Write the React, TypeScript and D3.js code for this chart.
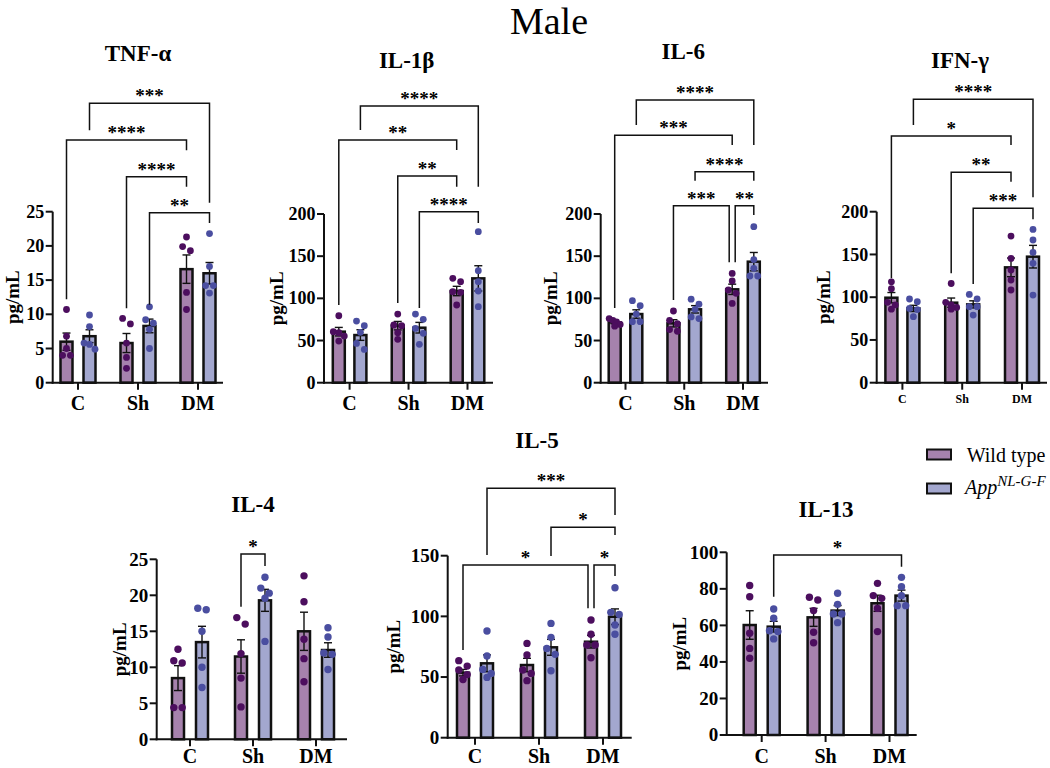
import React from 'react';
import * as d3 from 'd3';

const groups = ['C', 'Sh', 'DM'];
const seriesKeys = ['WT', 'App'];

// ---- TNF-α ----
const tnfTicks = [0, 5, 10, 15, 20, 25];
const tnfWTPoints = [[10.7, 6.8, 5.0, 4.0, 4.0], [9.4, 8.6, 5.8, 3.7, 2.1], [21.3, 19.9, 19.3, 13.2, 10.7]];
const tnfAppPoints = [[9.9, 8.2, 5.8, 5.6, 4.9], [11.1, 9.2, 8.7, 7.8, 5.0], [21.8, 17.0, 14.2, 14.2, 13.1]];
const tnfWTMeans = [6.0, 5.8, 16.6];
const tnfAppMeans = [6.8, 8.3, 16.0];
const tnfSig = [
  ['C', 'App', 'DM', 'App', '***', 40.85, 36.9, 26.3],
  ['C', 'WT', 'DM', 'WT', '****', 35.5, 12.2, 34.0],
  ['Sh', 'WT', 'DM', 'WT', '****', 30.1, 10.9, 28.65],
  ['Sh', 'App', 'DM', 'App', '**', 24.85, 11.4, 23.35],
];

// ---- IL-1β ----
const il1bTicks = [0, 50, 100, 150, 200];
const il1bWTPoints = [[79.4, 60.5, 59.3, 55.3, 49.4], [81.4, 68.4, 67.6, 59.3, 51.4], [123.7, 119.8, 107.9, 107.1, 92.1]];
const il1bAppPoints = [[73.1, 67.6, 59.7, 46.6, 39.5], [81.4, 75.1, 64.4, 58.5, 45.5], [179, 132.8, 119.8, 108.7, 90.1]];
const il1bWTMeans = [60.5, 67.6, 108.7];
const il1bAppMeans = [56.5, 65.2, 123.7];
const il1bSig = [
  ['C', 'App', 'DM', 'App', '****', 328, 299.6, 232.4],
  ['C', 'WT', 'DM', 'WT', '**', 287.6, 92.1, 275.8],
  ['Sh', 'WT', 'DM', 'WT', '**', 245, 94.5, 232.4],
  ['Sh', 'App', 'DM', 'App', '****', 202.7, 88.6, 189.3],
];

// ---- IL-6 ----
const il6Ticks = [0, 50, 100, 150, 200];
const il6WTPoints = [[76, 74, 72, 69, 67], [85, 74, 70, 63, 61], [129.6, 120.6, 109.9, 105.9, 94]];
const il6AppPoints = [[97.2, 91.3, 81.4, 72.3, 72.3], [99, 93, 87, 78, 76], [185, 146, 135.6, 126.5, 126.5]];
const il6WTMeans = [71.5, 70.4, 110.7];
const il6AppMeans = [81.4, 87, 143.5];
const il6Sig = [
  ['C', 'App', 'DM', 'App', '****', 335.2, 305.5, 281.8],
  ['C', 'WT', 'DM', 'WT', '***', 293.3, 88.6, 281.8],
  ['Sh', 'App', 'DM', 'App', '****', 250.1, 239.5, 239.5],
  ['Sh', 'WT', 'DM', 'WT', '***', 209.8, 98, 142.7],
  ['DM', 'WT', 'DM', 'App', '**', 209.8, 142.7, 198.8],
];

// ---- IFN-γ ----
const ifngTicks = [0, 50, 100, 150, 200];
const ifngWTPoints = [[118, 110, 94, 91, 86], [116, 94, 91, 88, 86], [171.5, 145.4, 131.8, 120.1, 108.4]];
const ifngAppPoints = [[97.9, 94.7, 86.9, 85.5, 77.2], [103.3, 97.9, 88.9, 88.9, 79.1], [179.3, 166.9, 152.4, 139.6, 102.5]];
const ifngWTMeans = [99.4, 93.6, 134.9];
const ifngAppMeans = [86.9, 91.6, 147.4];
const ifngSig = [
  ['C', 'App', 'DM', 'App', '****', 331.5, 301.4, 216.8],
  ['C', 'WT', 'DM', 'WT', '*', 288.5, 122.1, 278],
  ['Sh', 'WT', 'DM', 'WT', '**', 246.1, 128, 235.1],
  ['Sh', 'App', 'DM', 'App', '***', 204, 115.4, 191.1],
];

// ---- IL-4 ----
const il4Ticks = [0, 5, 10, 15, 20, 25];
const il4WTPoints = [[12.5, 10.9, 10.6, 4.4, 4.4], [16.9, 16.0, 11.9, 8.5, 4.5], [22.7, 19.1, 13.9, 11.2, 8.0]];
const il4AppPoints = [[18.2, 18.0, 15.0, 10.0, 7.2], [22.5, 21.0, 20.3, 19.6, 13.6], [15.5, 14.2, 12.0, 11.8, 9.7]];
const il4WTMeans = [8.5, 11.5, 15.0];
const il4AppMeans = [13.5, 19.3, 12.4];
const il4Sig = [
  ['Sh', 'WT', 'Sh', 'App', '*', 25.74, 18.4, 24.07],
];

// ---- IL-5 ----
const il5Ticks = [0, 50, 100, 150];
const il5WTPoints = [[63.5, 59, 55.8, 52, 48], [77.7, 68.1, 55.8, 53, 47], [97, 85.2, 76.4, 76.4, 65.9]];
const il5AppPoints = [[87.9, 67.3, 56.3, 53, 49.7], [94.2, 82.7, 73.6, 68.7, 55.2], [123.6, 103.3, 101.6, 92.9, 85.2]];
const il5WTMeans = [53.6, 59.9, 79.1];
const il5AppMeans = [61.3, 74.5, 99.7];
const il5Sig = [
  ['C', 'App', 'DM', 'App', '***', 205.5, 150.6, 183.5],
  ['Sh', 'App', 'DM', 'App', '*', 173.4, 149.8, 167.1],
  ['C', 'WT', 'DM', 'WT', '*', 142.3, 72.3, 106.6],
  ['DM', 'WT', 'DM', 'App', '*', 142.3, 106.6, 133.3],
];

// ---- IL-13 ----
const il13Ticks = [0, 20, 40, 60, 80, 100];
const il13WTPoints = [[81.8, 75.7, 55.7, 47.4, 42], [75.4, 73.9, 68.1, 56.2, 50.5], [83, 76.3, 74.8, 69.3, 56.6]];
const il13AppPoints = [[69, 63.9, 57.1, 56.6, 52.6], [77.6, 71.5, 66.2, 66.2, 61.5], [86.3, 81.2, 76.3, 70.8, 70.8]];
const il13WTMeans = [60.2, 64.4, 72.1];
const il13AppMeans = [59.3, 68.1, 76.3];
const il13Sig = [
  ['C', 'App', 'DM', 'App', '*', 98.5, 75.7, 92.1],
];

const FONT = '"Liberation Serif", "Times New Roman", Times, serif';
const barFill: Record<string, string> = { WT: '#a682ad', App: '#a3a7cf' };
const dotFill: Record<string, string> = { WT: '#4c0e5e', App: '#4a4ea0' };

type Layout = {
  title: string; tx: number; ty: number;
  axisX: number; xEnd: number; y0: number; yTop: number;
  c0: number; c1: number; off: number;
  tickFont: number; xFont: number; xDy: number; yLabDx: number; r: number;
};

const panels: { layout: Layout; ticks: number[]; wtPts: number[][]; appPts: number[][]; wtMeans: number[]; appMeans: number[]; sig: any[] }[] = [
  { layout: { title: 'TNF-α', tx: 138, ty: 60.7, axisX: 52.7, xEnd: 223, y0: 382.7, yTop: 211.7, c0: 78, c1: 198, off: 11.5, tickFont: 18, xFont: 20, xDy: 27, yLabDx: 40, r: 3.4 },
    ticks: tnfTicks, wtPts: tnfWTPoints, appPts: tnfAppPoints, wtMeans: tnfWTMeans, appMeans: tnfAppMeans, sig: tnfSig },
  { layout: { title: 'IL-1β', tx: 406.7, ty: 68, axisX: 324, xEnd: 493, y0: 382.7, yTop: 214, c0: 349.6, c1: 467.5, off: 10.8, tickFont: 18, xFont: 20, xDy: 27, yLabDx: 48, r: 3.4 },
    ticks: il1bTicks, wtPts: il1bWTPoints, appPts: il1bAppPoints, wtMeans: il1bWTMeans, appMeans: il1bAppMeans, sig: il1bSig },
  { layout: { title: 'IL-6', tx: 683.3, ty: 59.3, axisX: 600.7, xEnd: 768, y0: 382.7, yTop: 214, c0: 625.5, c1: 743, off: 10.8, tickFont: 18, xFont: 20, xDy: 27, yLabDx: 50, r: 3.4 },
    ticks: il6Ticks, wtPts: il6WTPoints, appPts: il6AppPoints, wtMeans: il6WTMeans, appMeans: il6AppMeans, sig: il6Sig },
  { layout: { title: 'IFN-γ', tx: 960, ty: 68, axisX: 876.7, xEnd: 1047, y0: 382.7, yTop: 211.7, c0: 902.4, c1: 1022, off: 11, tickFont: 18, xFont: 12, xDy: 20, yLabDx: 53.7, r: 3.4 },
    ticks: ifngTicks, wtPts: ifngWTPoints, appPts: ifngAppPoints, wtMeans: ifngWTMeans, appMeans: ifngAppMeans, sig: ifngSig },
  { layout: { title: 'IL-4', tx: 253, ty: 511.7, axisX: 156.7, xEnd: 347, y0: 739.3, yTop: 559.3, c0: 190, c1: 316, off: 12, tickFont: 19, xFont: 20, xDy: 24, yLabDx: 37.7, r: 3.7 },
    ticks: il4Ticks, wtPts: il4WTPoints, appPts: il4AppPoints, wtMeans: il4WTMeans, appMeans: il4AppMeans, sig: il4Sig },
  { layout: { title: 'IL-5', tx: 537, ty: 448, axisX: 447.7, xEnd: 631.7, y0: 737.7, yTop: 555.7, c0: 475, c1: 603, off: 12, tickFont: 19, xFont: 20, xDy: 25, yLabDx: 54.7, r: 3.7 },
    ticks: il5Ticks, wtPts: il5WTPoints, appPts: il5AppPoints, wtMeans: il5WTMeans, appMeans: il5AppMeans, sig: il5Sig },
  { layout: { title: 'IL-13', tx: 826, ty: 516.7, axisX: 726.7, xEnd: 916.7, y0: 735, yTop: 552.3, c0: 761.7, c1: 889.5, off: 12, tickFont: 19, xFont: 20, xDy: 28, yLabDx: 47.7, r: 3.7 },
    ticks: il13Ticks, wtPts: il13WTPoints, appPts: il13AppPoints, wtMeans: il13WTMeans, appMeans: il13AppMeans, sig: il13Sig },
];

function sem(vals: number[]) {
  const sd = d3.deviation(vals) || 0;
  return sd / Math.sqrt(vals.length);
}

function layoutDots(vals: number[], y: (v: number) => number, r: number) {
  const pts = vals.map((v) => ({ v, py: y(v) })).sort((a, b) => a.py - b.py);
  const rows: { v: number; py: number }[][] = [];
  for (const p of pts) {
    const last = rows[rows.length - 1];
    if (last && p.py - last[0].py < 2 * r - 0.5) last.push(p);
    else rows.push([p]);
  }
  const out: { v: number; py: number; dx: number }[] = [];
  rows.forEach((row) => {
    const n = row.length;
    const sp = n > 2 ? Math.min(2 * r + 1, 11 / (n - 1)) : 2 * r + 1;
    row.forEach((p, i) => out.push({ ...p, dx: (i - (n - 1) / 2) * sp }));
  });
  return out;
}

function Panel({ p }: { p: (typeof panels)[number] }) {
  const L = p.layout;
  const y = d3.scaleLinear().domain([0, d3.max(p.ticks) as number]).range([L.y0, L.yTop]);
  const x = d3.scalePoint<string>().domain(groups).range([L.c0, L.c1]);
  const xs = d3.scalePoint<string>().domain(seriesKeys).range([-L.off, L.off]);
  const barW = 12;
  const ptsBy: Record<string, number[][]> = { WT: p.wtPts, App: p.appPts };
  const meansBy: Record<string, number[]> = { WT: p.wtMeans, App: p.appMeans };

  const brackets = p.sig.map((s: any, i: number) => {
    const [ga, sa, gb, sb, label, lvl, la, lb] = s;
    let xa = (x(ga) as number) + (xs(sa) as number);
    let xb = (x(gb) as number) + (xs(sb) as number);
    p.sig.forEach((o: any, j: number) => {
      if (j === i || o[5] !== lvl) return;
      if ((o[0] === gb && o[1] === sb) || (o[2] === gb && o[3] === sb)) xb -= 3;
      if ((o[0] === ga && o[1] === sa) || (o[2] === ga && o[3] === sa)) xa += 3;
    });
    return { xa, xb, label, yl: y(lvl), ya: y(la), yb: y(lb) };
  });

  return (
    <g>
      <text x={L.tx} y={L.ty} textAnchor="middle" fontFamily={FONT} fontWeight="bold" fontSize={23}>{L.title}</text>
      {/* bars */}
      {groups.map((g, gi) =>
        seriesKeys.map((s) => {
          const cx = (x(g) as number) + (xs(s) as number);
          const m = meansBy[s][gi];
          return (
            <rect key={g + s} x={cx - barW / 2} y={y(m)} width={barW} height={L.y0 - y(m)}
              fill={barFill[s]} stroke="#111" strokeWidth={2.5} />
          );
        })
      )}
      {/* error bars */}
      {groups.map((g, gi) =>
        seriesKeys.map((s) => {
          const cx = (x(g) as number) + (xs(s) as number);
          const m = meansBy[s][gi];
          const e = sem(ptsBy[s][gi]);
          const yt = y(m + e), yb = y(m - e);
          return (
            <g key={'e' + g + s} stroke="#111" strokeWidth={1.4} fill="none">
              <line x1={cx} x2={cx} y1={yt} y2={yb} />
              <line x1={cx - 4} x2={cx + 4} y1={yt} y2={yt} />
              <line x1={cx - 4} x2={cx + 4} y1={yb} y2={yb} />
            </g>
          );
        })
      )}
      {/* dots */}
      {groups.map((g, gi) =>
        seriesKeys.map((s) => {
          const cx = (x(g) as number) + (xs(s) as number);
          return layoutDots(ptsBy[s][gi], y, L.r).map((d, k) => (
            <circle key={'d' + g + s + k} cx={cx + d.dx} cy={d.py} r={L.r} fill={dotFill[s]} />
          ));
        })
      )}
      {/* axes */}
      <line x1={L.axisX} x2={L.axisX} y1={L.y0 + 1} y2={y(d3.max(p.ticks) as number)} stroke="#111" strokeWidth={2} />
      <line x1={L.axisX - 1} x2={L.xEnd} y1={L.y0} y2={L.y0} stroke="#111" strokeWidth={2} />
      {p.ticks.map((t) => (
        <g key={'t' + t}>
          <line x1={L.axisX - 7} x2={L.axisX} y1={y(t)} y2={y(t)} stroke="#111" strokeWidth={2} />
          <text x={L.axisX - 8.5} y={y(t)} dy="0.34em" textAnchor="end" fontFamily={FONT} fontWeight="bold" fontSize={L.tickFont}>{t}</text>
        </g>
      ))}
      {groups.map((g) => (
        <g key={'x' + g}>
          <line x1={x(g) as number} x2={x(g) as number} y1={L.y0} y2={L.y0 + 7} stroke="#111" strokeWidth={2} />
          <text x={x(g) as number} y={L.y0 + L.xDy} textAnchor="middle" fontFamily={FONT} fontWeight="bold" fontSize={L.xFont}>{g}</text>
        </g>
      ))}
      <text transform={`translate(${L.axisX - L.yLabDx},${(L.y0 + y(d3.max(p.ticks) as number)) / 2}) rotate(-90)`}
        textAnchor="middle" dominantBaseline="central" fontFamily={FONT} fontWeight="bold" fontSize={19}>pg/mL</text>
      {/* significance brackets */}
      {brackets.map((b: any, i: number) => (
        <g key={'b' + i}>
          <path d={`M${b.xa},${b.ya}V${b.yl}H${b.xb}V${b.yb}`} fill="none" stroke="#111" strokeWidth={1.5} />
          <text x={(b.xa + b.xb) / 2} y={b.yl - 1} textAnchor="middle" fontFamily={FONT} fontWeight="bold" fontSize={19}>{b.label}</text>
        </g>
      ))}
    </g>
  );
}

export default function App() {
  return (
    <svg width={1050} height={768} style={{ position: 'absolute', left: 0, top: 0, background: '#fff' }}>
      <rect x={0} y={0} width={1050} height={768} fill="#fff" />
      <text x={549} y={34} textAnchor="middle" fontFamily={FONT} fontSize={38}>Male</text>
      {panels.map((p, i) => <Panel key={i} p={p} />)}
      {/* legend */}
      <rect x={927} y={449.5} width={24} height={10} fill={barFill.WT} stroke="#111" strokeWidth={2} />
      <text x={966.7} y={461.5} fontFamily={FONT} fontSize={20}>Wild type</text>
      <rect x={927} y={483.5} width={24} height={10} fill={barFill.App} stroke="#111" strokeWidth={2} />
      <text x={965} y={494} fontFamily={FONT} fontSize={20} fontStyle="italic">
        App<tspan dy={-8} fontSize={15}>NL-G-F</tspan>
      </text>
    </svg>
  );
}
